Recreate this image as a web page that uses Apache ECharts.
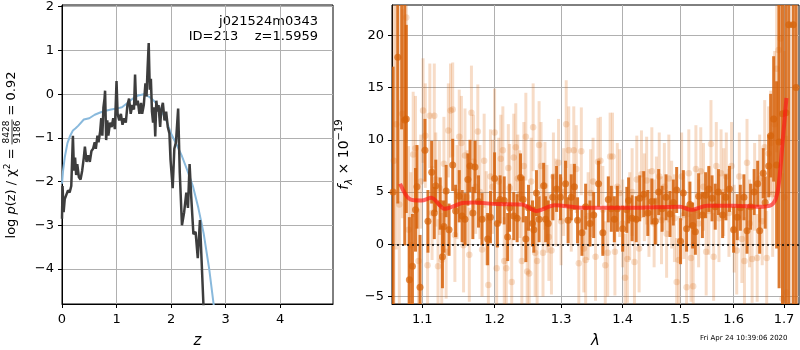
<!DOCTYPE html>
<html>
<head>
<meta charset="utf-8">
<script src="https://cdn.jsdelivr.net/npm/echarts@6/dist/echarts.min.js"></script>
<style>
  html, body { margin: 0; padding: 0; background: #fff; }
  #main { width: 800px; height: 350px; }
</style>
</head>
<body>
<div id="main"></div>
<script>
// ---- p(z) panel ----
var pzZ = [0.00, 0.01, 0.03, 0.05, 0.08, 0.11, 0.14, 0.17, 0.20, 0.22, 0.24, 0.26, 0.28, 0.31, 0.34, 0.37, 0.40, 0.42, 0.45, 0.48,
  0.51, 0.54, 0.57, 0.60, 0.62, 0.65, 0.67, 0.70, 0.72, 0.74, 0.76, 0.78, 0.79, 0.81, 0.83, 0.85, 0.88, 0.91, 0.94, 0.97,
  1.00, 1.02, 1.05, 1.08, 1.11, 1.14, 1.17, 1.20, 1.23, 1.26, 1.29, 1.32, 1.34, 1.36, 1.39, 1.42, 1.45, 1.47, 1.50, 1.53,
  1.55, 1.57, 1.59, 1.61, 1.63, 1.65, 1.67, 1.69, 1.71, 1.73, 1.75, 1.77, 1.80, 1.82, 1.85, 1.88, 1.91, 1.94, 1.97, 1.99,
  2.03, 2.06, 2.09, 2.13, 2.16, 2.20, 2.24, 2.28, 2.31, 2.34, 2.37, 2.41, 2.45, 2.49, 2.53, 2.56, 2.60];
var pzLog = [-2.85, -2.10, -2.70, -2.40, -2.38, -2.20, -2.25, -2.10, -0.95, -1.75, -1.45, -1.85, -1.60, -1.90, -1.95, -1.75, -1.45, -1.20, -1.55, -1.40,
  -1.55, -1.30, -1.25, -1.10, -1.25, -0.95, -1.10, -0.85, -0.55, -0.95, -0.30, -0.10, 0.08, -1.05, -0.60, -0.95, -0.65, -0.75, -0.55, -0.80,
  0.30, -0.45, -0.60, -0.45, -0.70, -0.55, -0.65, -0.25, -0.10, -0.45, -0.25, -0.35, 0.45, -0.25, -0.15, -0.45, -0.20, -0.45, -0.25, 0.25,
  -0.05, 0.60, 1.17, 0.10, 0.35, -0.40, -0.65, -0.30, -0.97, -0.15, -0.40, -0.25, -0.75, -0.35, -0.20, -0.60, -0.40, -0.75, -0.90, -1.50,
  -2.15, -1.25, -1.10, -0.33, -1.80, -3.00, -2.70, -2.25, -2.60, -1.60, -2.35, -3.20, -3.15, -3.75, -2.88, -3.80, -5.00];
var priorZ = [0, 0.02, 0.05, 0.1, 0.15, 0.2, 0.25, 0.3, 0.4, 0.5, 0.6, 0.7, 0.8, 0.9, 1.0, 1.1, 1.2, 1.3, 1.4, 1.5,
  1.6, 1.7, 1.8, 1.9, 2.0, 2.1, 2.2, 2.3, 2.4, 2.5, 2.6, 2.7, 2.8];
var priorLog = [-2.05, -1.75, -1.45, -1.12, -0.95, -0.83, -0.78, -0.72, -0.58, -0.55, -0.47, -0.42, -0.38, -0.35, -0.33, -0.30, -0.20, -0.10, -0.03, 0.0,
  -0.06, -0.17, -0.33, -0.56, -0.90, -1.15, -1.42, -1.75, -2.10, -2.60, -3.20, -4.00, -5.00];
var zTicks = [0, 1, 2, 3, 4];
var pzTicks = [-4, -3, -2, -1, 0, 1, 2];

// ---- spectrum panel ----
var darkWave = [1.062, 1.068, 1.073, 1.077, 1.079, 1.083, 1.087, 1.091, 1.093, 1.097, 1.1035, 1.1075, 1.1125, 1.116, 1.118, 1.124, 1.127, 1.129, 1.132, 1.136,
  1.141, 1.145, 1.150, 1.154, 1.158, 1.162, 1.165, 1.169, 1.172, 1.177, 1.182, 1.190, 1.194, 1.200, 1.204, 1.208, 1.214, 1.219, 1.222, 1.228,
  1.233, 1.238, 1.242, 1.246, 1.250, 1.256, 1.258, 1.262, 1.266, 1.273, 1.276, 1.280, 1.287, 1.293, 1.299, 1.307, 1.311, 1.316, 1.321, 1.326,
  1.333, 1.339, 1.346, 1.352, 1.360, 1.367, 1.376, 1.381, 1.386, 1.391, 1.400, 1.407, 1.410, 1.416, 1.423, 1.429, 1.436, 1.443, 1.450, 1.456,
  1.462, 1.468, 1.475, 1.482, 1.488, 1.494, 1.501, 1.506, 1.512, 1.518, 1.523, 1.528, 1.534, 1.541, 1.547, 1.553, 1.559, 1.565, 1.571, 1.579,
  1.585, 1.592, 1.600, 1.607, 1.613, 1.620, 1.626, 1.633, 1.640, 1.647, 1.651, 1.658, 1.662, 1.669, 1.673, 1.679, 1.685, 1.690, 1.697, 1.704,
  1.710, 1.719, 1.725];
var darkFlux = [5.0, 17.9, 23.0, 11.9, 12.0, -3.4, -2.1, 3.3, 5.5, -4.1, 9.0, 2.2, 6.9, 3.0, 5.6, 3.9, -1.2, 1.7, 5.1, 1.4,
  7.6, 3.2, 4.6, 2.7, 2.4, 6.2, 7.5, 3.0, 7.4, 4.1, 2.4, 0.5, 2.6, 6.3, 2.0, 4.3, 4.2, 0.7, 3.5, 2.7,
  2.5, 6.4, 4.3, 0.5, 3.5, 2.0, 1.4, 4.9, 2.4, 5.6, 2.4, 2.0, 4.5, 5.3, 4.5, 5.8, 2.3, 4.5, 5.5, 2.3,
  1.1, 3.6, 2.0, 2.8, 5.8, 1.1, 4.3, 3.4, 2.4, 3.4, 1.5, 3.3, 4.2, 2.5, 2.4, 4.4, 4.8, 3.0, 4.1, 2.2,
  5.0, 3.4, 4.5, 2.9, 4.0, 5.2, 0.3, 4.9, 1.5, 3.8, 1.8, 1.2, 4.6, 2.8, 4.7, 5.3, 4.4, 3.6, 5.0, 2.8,
  4.5, 5.3, 1.4, 2.6, 3.5, 4.5, 1.3, 3.6, 5.0, 5.8, 1.3, 6.8, 4.0, 7.5, 10.4, 12.0, 7.6, 9.8, 12.5, 12.6,
  21.0, 21.0, 15.0];
var darkErr = [12, 14, 12, 12, 9, 6, 5, 4, 4, 5, 3, 3, 3, 2.5, 2.5, 2.5, 3, 2.5, 2.5, 2.5,
  2.5, 2.5, 2.5, 2.5, 2.5, 2.5, 2.5, 2.5, 2.5, 2.5, 2.5, 2.5, 2.5, 2.5, 2.3, 2.3, 2.3, 2.3, 2.3, 2.3,
  2.3, 2.3, 2.2, 2.2, 2.2, 2.2, 2.2, 2.2, 2.2, 2.2, 2.2, 2.2, 2.2, 2.2, 2.2, 2.2, 2.2, 2.2, 2.2, 2.2,
  2.2, 2.2, 2.2, 2.2, 2.2, 2.2, 2.2, 2.2, 2.2, 2.2, 2.2, 2.2, 2.2, 2.2, 2.2, 2.2, 2.2, 2.2, 2.2, 2.2,
  2.2, 2.2, 2.2, 2.2, 2.2, 2.2, 2.2, 2.2, 2.2, 2.2, 2.2, 2.2, 2.2, 2.2, 2.2, 2.2, 2.2, 2.2, 2.2, 2.2,
  2.2, 2.2, 2.2, 2.2, 2.2, 2.2, 2.2, 2.2, 2.2, 2.2, 2.2, 2.4, 2.5, 3, 4, 6, 8, 14, 20, 25,
  30, 30, 30];
var lightWave = [1.063, 1.066, 1.070, 1.074, 1.079, 1.082, 1.085, 1.088, 1.091, 1.095, 1.098, 1.101, 1.104, 1.107, 1.110, 1.113, 1.116, 1.118, 1.121, 1.123,
  1.126, 1.129, 1.132, 1.135, 1.138, 1.141, 1.144, 1.147, 1.150, 1.153, 1.156, 1.158, 1.161, 1.164, 1.167, 1.170, 1.173, 1.176, 1.179, 1.182,
  1.185, 1.188, 1.191, 1.194, 1.197, 1.200, 1.203, 1.206, 1.209, 1.212, 1.214, 1.217, 1.220, 1.222, 1.225, 1.228, 1.231, 1.234, 1.237, 1.240,
  1.243, 1.246, 1.248, 1.251, 1.254, 1.257, 1.260, 1.263, 1.266, 1.269, 1.272, 1.275, 1.278, 1.281, 1.285, 1.288, 1.292, 1.296, 1.300, 1.304,
  1.308, 1.312, 1.316, 1.320, 1.324, 1.328, 1.332, 1.336, 1.339, 1.343, 1.347, 1.351, 1.355, 1.359, 1.363, 1.367, 1.371, 1.375, 1.379, 1.383,
  1.387, 1.391, 1.395, 1.400, 1.404, 1.408, 1.412, 1.416, 1.420, 1.424, 1.428, 1.432, 1.437, 1.441, 1.445, 1.450, 1.454, 1.458, 1.463, 1.467,
  1.472, 1.476, 1.480, 1.485, 1.490, 1.494, 1.498, 1.503, 1.507, 1.512, 1.516, 1.520, 1.524, 1.529, 1.534, 1.538, 1.543, 1.548, 1.553, 1.557,
  1.562, 1.567, 1.572, 1.576, 1.581, 1.586, 1.591, 1.596, 1.601, 1.606, 1.611, 1.616, 1.621, 1.626, 1.631, 1.636, 1.641, 1.646, 1.651, 1.656,
  1.661, 1.665, 1.669, 1.673, 1.677, 1.681, 1.685, 1.689, 1.693, 1.697, 1.701, 1.705];
var lightFlux = [8.0, 11.5, 3.8, 12.5, 21.7, 1.4, -0.1, 8.6, 9.2, -1.6, 6.0, 12.8, 10.4, -2.0, 12.3, 3.0, 12.3, 6.2, -2.1, 5.4,
  -1.5, 7.7, -0.7, 10.9, 12.8, 12.9, 0.9, 5.0, 10.3, 9.7, -0.1, 8.5, 4.5, -1.0, 12.6, 7.9, 5.5, 10.8, 5.0, -0.5,
  8.0, 2.5, -3.9, 6.5, 5.5, 10.7, -2.3, 6.0, 8.2, 9.0, -1.6, -2.3, 7.3, 5.4, -3.6, 8.3, 9.3, 6.3, 4.8, -1.6,
  7.5, 10.3, -2.6, -2.8, 6.0, 11.2, -0.8, -1.6, 9.5, 7.5, -0.8, 5.6, 3.4, 0.7, -0.6, 6.5, 4.0, 7.8, 2.2, 5.0,
  11.5, 9.0, 3.5, 9.0, 7.2, -1.8, 8.9, -0.4, -1.5, 2.7, 4.9, 6.0, -1.2, 7.9, 8.0, 3.3, -2.0, -0.8, 8.4, 8.4,
  -0.7, 5.5, 4.9, 2.0, -3.2, -1.4, 2.7, 5.0, -1.7, 6.2, -0.4, 6.7, 4.5, 6.1, 3.0, 7.0, 2.0, 4.2, 6.5, 2.3,
  5.5, 1.0, 6.3, 3.8, 2.5, -3.6, -1.5, 6.5, 2.8, -4.1, 6.8, -1.3, -4.0, 7.2, 2.0, 7.0, 5.5, -0.7, 3.2, 9.6,
  -1.2, 7.5, 2.5, 6.8, 5.0, 6.5, 3.0, 7.5, 1.5, -0.6, 6.5, 0.5, -1.6, 7.8, 2.0, -1.4, 5.5, -1.3, 6.3, 2.2,
  9.3, -1.3, 8.7, 9.7, 4.8, 11.5, 16.8, 18.6, 19.7, -5.2, 4.5, -4.6];
var lightErr = [15, 12, 10, 10, 12, 8, 7, 6, 5, 5, 4.5, 5, 5, 4.5, 5, 4.5, 5, 4.5, 4.5, 4.5,
  4.5, 4.5, 4.5, 4.5, 4.5, 4.5, 4.5, 4.5, 4.5, 4.5, 4.5, 4.5, 4.5, 4.5, 4.5, 4.5, 4.5, 4.5, 4.5, 4.5,
  4.5, 4.5, 4.5, 4.5, 4.5, 4.2, 4.2, 4.2, 4.2, 4.2, 4.2, 4.2, 4.2, 4.2, 4.2, 4.2, 4.2, 4.2, 4.2, 4.2,
  4.2, 4.2, 4.2, 4.2, 4.2, 4.2, 4.2, 4.2, 4.2, 4.2, 4.2, 4.2, 4.2, 4.2, 4.2, 4.2, 4.2, 4.2, 4.2, 4.2,
  4.2, 4.2, 4.2, 4.2, 4.2, 4.2, 4.2, 4.2, 4.2, 4.2, 4.2, 4.2, 4.2, 4.2, 4.2, 4.2, 4.2, 4.2, 4.2, 4.2,
  4.2, 4.2, 4.2, 4.2, 4.2, 4.2, 4.2, 4.2, 4.2, 4.2, 4.2, 4.2, 4.2, 4.2, 4.2, 4.2, 4.2, 4.2, 4.2, 4.2,
  4.2, 4.2, 4.2, 4.2, 4.2, 4.2, 4.2, 4.2, 4.2, 4.2, 4.2, 4.2, 4.2, 4.2, 4.2, 4.2, 4.2, 4.2, 4.2, 4.2,
  4.2, 4.2, 4.2, 4.2, 4.2, 4.2, 4.2, 4.2, 4.2, 4.2, 4.2, 4.2, 4.2, 4.2, 4.2, 4.2, 4.2, 4.2, 4.2, 4.2,
  4.5, 4.5, 4.5, 5, 6, 7, 8, 9, 10, 12, 14, 15];
var modelWave = [1.071, 1.084, 1.099, 1.112, 1.130, 1.155, 1.170, 1.203, 1.240, 1.262, 1.290, 1.335, 1.412, 1.500, 1.520, 1.550, 1.600, 1.658, 1.678, 1.688, 1.697, 1.705];
var modelFlux = [5.8, 4.3, 4.2, 4.45, 3.4, 3.95, 4.0, 3.85, 3.8, 3.2, 3.75, 3.5, 3.5, 3.6, 3.3, 3.7, 3.7, 3.6, 3.9, 5.3, 9.7, 14.0];
var waveTicks = [1.1, 1.2, 1.3, 1.4, 1.5, 1.6, 1.7];
var waveRange = [1.0606, 1.7310];
var fluxTicks = [-5, 0, 5, 10, 15, 20];

var FONT = 'DejaVu Sans';
function minus(v) { return v < 0 ? '\u2212' + (-v) : String(v); }

function errBars(wave, flux, err) {
  return wave.map(function (w, i) { return [Math.log(w), flux[i] - err[i], flux[i] + err[i]]; });
}
function barRenderer(color, width) {
  return function (params, api) {
    var a = api.coord([api.value(0), api.value(1)]);
    var b = api.coord([api.value(0), api.value(2)]);
    return {
      type: 'line',
      shape: {x1: a[0], y1: a[1], x2: b[0], y2: b[1]},
      style: {stroke: color, lineWidth: width}
    };
  };
}

// measure the pieces of the rotated p(z) label so the fraction sits right after "="
var ctx = document.createElement('canvas').getContext('2d');
function tw(txt, font) { ctx.font = font; return ctx.measureText(txt).width; }
var LBL = 13;
var w1 = tw('log ', LBL + 'px "DejaVu Sans"') + tw('p', 'italic ' + LBL + 'px "DejaVu Sans"') +
  tw('(z) / χ', LBL + 'px "DejaVu Sans"') + tw('2', '9px "DejaVu Sans"') + tw(' =', LBL + 'px "DejaVu Sans"');
var wFrac = tw('8428', '9px "DejaVu Sans"') + 2;
var w3 = tw('= 0.92', LBL + 'px "DejaVu Sans"');
var fracX = w1 + 4;
var restX = fracX + wFrac + 4;
var lblTotal = restX + w3;

var axisCommon = {
  axisLine: {show: true, onZero: false, lineStyle: {color: '#000', width: 1}},
  axisTick: {show: true, length: 4, lineStyle: {color: '#000'}},
  splitLine: {show: true, lineStyle: {color: '#b0b0b0', width: 1}},
  axisLabel: {color: '#000', fontFamily: FONT, fontSize: 13, margin: 8}
};
function ax(extra) { return echarts.util.merge(echarts.util.clone(axisCommon), extra, true); }

var chart = echarts.init(document.getElementById('main'));
chart.setOption({
  backgroundColor: '#fff',
  animation: false,
  grid: [
    {left: 62, top: 5, width: 271, height: 299, show: true, borderColor: '#000', borderWidth: 1,
      containLabel: false, outerBoundsMode: 'none'},
    {left: 392, top: 5, width: 407, height: 299, show: true, borderColor: '#000', borderWidth: 1,
      containLabel: false, outerBoundsMode: 'none'}
  ],
  xAxis: [
    ax({gridIndex: 0, type: 'value', min: 0, max: 4.97,
      axisTick: {customValues: zTicks}, axisLabel: {customValues: zTicks, margin: 9},
      name: 'z', nameLocation: 'middle', nameGap: 30,
      nameTextStyle: {fontFamily: FONT, fontSize: 15, fontStyle: 'italic', color: '#000'}}),
    ax({gridIndex: 1, type: 'value', min: Math.log(waveRange[0]), max: Math.log(waveRange[1]),
      axisTick: {customValues: waveTicks.map(Math.log)},
      axisLabel: {customValues: waveTicks.map(Math.log), margin: 9,
        formatter: function (v) { return Math.exp(v).toFixed(1); }},
      name: 'λ', nameLocation: 'middle', nameGap: 30,
      nameTextStyle: {fontFamily: FONT, fontSize: 15, fontStyle: 'italic', color: '#000'}})
  ],
  yAxis: [
    ax({gridIndex: 0, type: 'value', min: -4.8, max: 2.04,
      axisTick: {customValues: pzTicks},
      axisLabel: {customValues: pzTicks, formatter: minus}}),
    ax({gridIndex: 1, type: 'value', min: -5.71, max: 22.9,
      axisTick: {customValues: fluxTicks},
      axisLabel: {customValues: fluxTicks, formatter: minus},
      name: '{i|f}{sub|λ}{n| × 10}{sup|−19}', nameLocation: 'middle', nameGap: 38, nameRotate: 90,
      nameTextStyle: {
        color: '#000', fontFamily: FONT, fontSize: 14, lineHeight: 20,
        rich: {
          i: {fontFamily: FONT, fontSize: 14, fontStyle: 'italic', color: '#000'},
          sub: {fontFamily: FONT, fontSize: 10, fontStyle: 'italic', color: '#000', verticalAlign: 'bottom'},
          n: {fontFamily: FONT, fontSize: 14, color: '#000'},
          sup: {fontFamily: FONT, fontSize: 10, color: '#000', verticalAlign: 'top'}
        }
      }})
  ],
  series: [
    {type: 'line', xAxisIndex: 0, yAxisIndex: 0, showSymbol: false, z: 3,
      data: priorZ.map(function (z, i) { return [z, priorLog[i]]; }),
      lineStyle: {color: '#89b9dc', width: 2}},
    {type: 'line', xAxisIndex: 0, yAxisIndex: 0, showSymbol: false, z: 4,
      data: pzZ.map(function (z, i) { return [z, pzLog[i]]; }),
      lineStyle: {color: '#3d3d3d', width: 2.5}},
    {type: 'custom', xAxisIndex: 1, yAxisIndex: 1, clip: true, z: 2,
      data: errBars(lightWave, lightFlux, lightErr),
      renderItem: barRenderer('rgba(217,95,2,0.22)', 3)},
    {type: 'scatter', xAxisIndex: 1, yAxisIndex: 1, z: 3, symbolSize: 6.5,
      data: lightWave.map(function (w, i) { return [Math.log(w), lightFlux[i]]; }),
      itemStyle: {color: 'rgba(217,95,2,0.25)'}},
    {type: 'custom', xAxisIndex: 1, yAxisIndex: 1, clip: true, z: 4,
      data: errBars(darkWave, darkFlux, darkErr),
      renderItem: barRenderer('rgba(214,98,10,0.85)', 3)},
    {type: 'scatter', xAxisIndex: 1, yAxisIndex: 1, z: 5, symbolSize: 7,
      data: darkWave.map(function (w, i) { return [Math.log(w), darkFlux[i]]; }),
      itemStyle: {color: 'rgba(214,98,10,0.9)'}},
    {type: 'line', xAxisIndex: 1, yAxisIndex: 1, showSymbol: false, smooth: 0.3, z: 6,
      data: modelWave.map(function (w, i) { return [Math.log(w), modelFlux[i]]; }),
      lineStyle: {color: 'rgba(255,20,20,0.65)', width: 4},
      markLine: {silent: true, symbol: 'none', label: {show: false},
        lineStyle: {color: '#000', type: [2, 3], width: 1.5},
        data: [{yAxis: 0}]}}
  ],
  graphic: [
    {type: 'text', right: 482, top: 15, style: {text: 'j021524m0343', fill: '#000', font: '13px "DejaVu Sans"', align: 'right'}},
    {type: 'text', right: 482, top: 30, style: {text: 'ID=213    z=1.5959', fill: '#000', font: '13px "DejaVu Sans"', align: 'right'}},
    {type: 'text', left: 700, top: 335, style: {text: 'Fri Apr 24 10:39:06 2020', fill: '#000', font: '7px "DejaVu Sans"'}},
    {type: 'group', x: 12, y: 155 + lblTotal / 2, rotation: Math.PI / 2, children: [
      {type: 'text', x: 0, y: 0, style: {
        text: '{a|log }{i|p}{a|(z) / χ}{s|2}{a| =}', verticalAlign: 'middle', fill: '#000',
        rich: {
          a: {fontFamily: FONT, fontSize: LBL, fill: '#000', lineHeight: 18},
          i: {fontFamily: FONT, fontSize: LBL, fontStyle: 'italic', fill: '#000', lineHeight: 18},
          s: {fontFamily: FONT, fontSize: 9, fill: '#000', verticalAlign: 'top', lineHeight: 18}
        }}},
      {type: 'text', x: fracX + wFrac / 2, y: -5, style: {text: '8428', fill: '#000', font: '9px "DejaVu Sans"', align: 'center', verticalAlign: 'middle'}},
      {type: 'line', shape: {x1: fracX, y1: 0, x2: fracX + wFrac, y2: 0}, style: {stroke: '#000', lineWidth: 0.8}},
      {type: 'text', x: fracX + wFrac / 2, y: 6, style: {text: '9186', fill: '#000', font: '9px "DejaVu Sans"', align: 'center', verticalAlign: 'middle'}},
      {type: 'text', x: restX, y: 0, style: {text: '= 0.92', fill: '#000', font: LBL + 'px "DejaVu Sans"', verticalAlign: 'middle'}}
    ]}
  ]
});
</script>
</body>
</html>
